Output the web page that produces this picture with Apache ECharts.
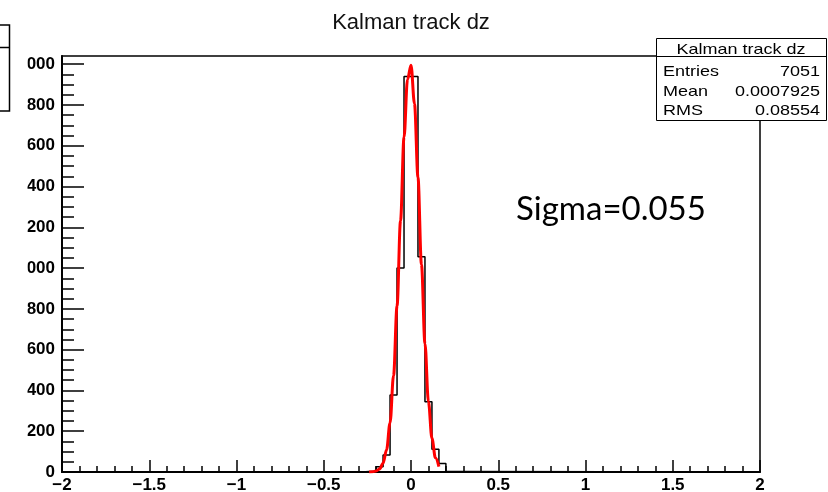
<!DOCTYPE html>
<html><head><meta charset="utf-8">
<script src="https://cdn.jsdelivr.net/npm/echarts@6/dist/echarts.min.js"></script>
<style>html,body{margin:0;padding:0;background:#fff}#c{width:828px;height:492px}</style>
</head><body><div id="c"></div>
<script>
// ---- data ----
const chartTitle = 'Kalman track dz';
const binWidth = 0.04;
const binLowEdges = [-0.28, -0.24, -0.20, -0.16, -0.12, -0.08, -0.04, 0.00, 0.04, 0.08, 0.12, 0.16, 0.20, 0.24];
const binCounts   = [2, 2, 26, 83, 377, 1000, 1940, 1940, 1055, 345, 112, 42, 2, 2];
const fitX = [-0.24, -0.22, -0.20, -0.18, -0.16, -0.14, -0.12, -0.10, -0.08, -0.06, -0.04, -0.02, 0.00, 0.02, 0.04, 0.06, 0.08, 0.10, 0.12, 0.14, 0.16];
const fitY = [0.3, 1.3, 4.6, 15, 43, 109, 242, 473, 814, 1232, 1641, 1925, 1995, 1806, 1445, 1017, 630, 344, 165, 70, 26];
const xRange = [-2, 2];
const xTickStep = 0.5;
const yMax = 2040;
const yMajorTicks = [0, 200, 400, 600, 800, 1000, 1200, 1400, 1600, 1800, 2000];
const yMinorStep = 50;
const statsTitle = 'Kalman track dz';
const statsLabels = ['Entries', 'Mean', 'RMS'];
const statsValues = ['7051', '0.0007925', '0.08554'];
const annotation = 'Sigma=0.055';

// ---- build ----
const histData = [[xRange[0], 0]];
binLowEdges.forEach((e, i) => histData.push([e, binCounts[i]]));
histData.push([binLowEdges[binLowEdges.length - 1] + binWidth, 0]);
histData.push([xRange[1], 0]);
const fitData = fitX.map((x, i) => [x, fitY[i]]);
const yMinorTicks = [];
for (let v = yMinorStep; v < yMax; v += yMinorStep) if (v % 200 !== 0) yMinorTicks.push(v);

const chart = echarts.init(document.getElementById('c'), null, {renderer: 'canvas'});
const lab = {fontFamily: '"Liberation Sans", Arial, sans-serif', fontSize: 17, fontWeight: 'bold', color: '#000'};
const statFont = '15px "Liberation Sans", Arial, sans-serif';

function T(text, x, y, align, font, scaleX, fill) {
  return {type: 'text', x: x, y: y, scaleX: scaleX || 1, z: 110,
    style: {text: text, font: font, fill: fill || '#000', align: align, textAlign: align,
            verticalAlign: 'middle', textVerticalAlign: 'middle'}};
}

const graphics = [
  // white area hiding the cut-off left part of y labels
  {type: 'rect', z: 100, shape: {x: 11, y: 50, width: 16.5, height: 440}, style: {fill: '#fff'}},
  // fragment of a neighbouring box on the left edge
  {type: 'rect', z: 101, shape: {x: -3, y: 25, width: 12.5, height: 86}, style: {fill: 'none', stroke: '#000', lineWidth: 1.5}},
  {type: 'line', z: 101, shape: {x1: -3, y1: 47.5, x2: 9.5, y2: 47.5}, style: {stroke: '#000', lineWidth: 1.5}},
  // stats box
  {type: 'rect', z: 105, shape: {x: 656.5, y: 38.5, width: 170, height: 82}, style: {fill: '#fff', stroke: '#000', lineWidth: 1}},
  {type: 'line', z: 106, shape: {x1: 656.5, y1: 56.5, x2: 826.5, y2: 56.5}, style: {stroke: '#000', lineWidth: 1}},
  T(statsTitle, 741, 49.5, 'center', statFont, 1.2),
  T(chartTitle, 411, 22.5, 'center', '22px "Liberation Sans", Arial, sans-serif', 1, '#111'),
  T(annotation, 516, 209, 'left', '33px Lato, "Open Sans", sans-serif', 1)
];
const rowY = [72, 92, 110.5];
statsLabels.forEach((s, i) => {
  graphics.push(T(s, 663, rowY[i], 'left', statFont, 1.2));
  graphics.push(T(statsValues[i], 820, rowY[i], 'right', statFont, 1.2));
});

chart.setOption({
  animation: false,
  backgroundColor: '#fff',
  grid: {left: 62, right: 68, top: 56, bottom: 20, show: true, borderColor: '#000', borderWidth: 1.5,
         containLabel: false, outerBoundsMode: 'none'},
  xAxis: {
    type: 'value', min: xRange[0], max: xRange[1], interval: xTickStep,
    axisLine: {show: true, onZero: false, lineStyle: {color: '#000', width: 2}},
    axisTick: {show: true, inside: true, length: 12, lineStyle: {color: '#000', width: 1.5}},
    minorTick: {show: true, splitNumber: 5, length: 6, lineStyle: {color: '#000', width: 1.5}},
    splitLine: {show: false},
    axisLabel: Object.assign({margin: 5, showMinLabel: true, showMaxLabel: true,
      formatter: v => (v < 0 ? '\u2212' : '') + Math.abs(v)}, lab)
  },
  yAxis: [{
    type: 'value', min: 0, max: yMax,
    axisLine: {show: true, onZero: false, lineStyle: {color: '#000', width: 2}},
    axisTick: {show: true, inside: true, length: 22, customValues: yMajorTicks, lineStyle: {color: '#000', width: 1.5}},
    minorTick: {show: false},
    splitLine: {show: false},
    axisLabel: Object.assign({margin: 7, customValues: yMajorTicks}, lab)
  }, {
    type: 'value', min: 0, max: yMax, position: 'left',
    axisLine: {show: false, onZero: false},
    axisTick: {show: true, inside: true, length: 12, customValues: yMinorTicks, lineStyle: {color: '#000', width: 1.5}},
    minorTick: {show: false},
    axisLabel: {show: false},
    splitLine: {show: false}
  }],
  series: [
    {type: 'line', step: 'end', data: histData, symbol: 'none', yAxisIndex: 0, z: 2,
     lineStyle: {color: '#000', width: 1.5}},
    {type: 'line', data: fitData, symbol: 'none', smooth: 0.35, smoothMonotone: 'x', yAxisIndex: 0, z: 3,
     lineStyle: {color: '#ff0000', width: 3}}
  ],
  graphic: graphics
});
</script></body></html>
